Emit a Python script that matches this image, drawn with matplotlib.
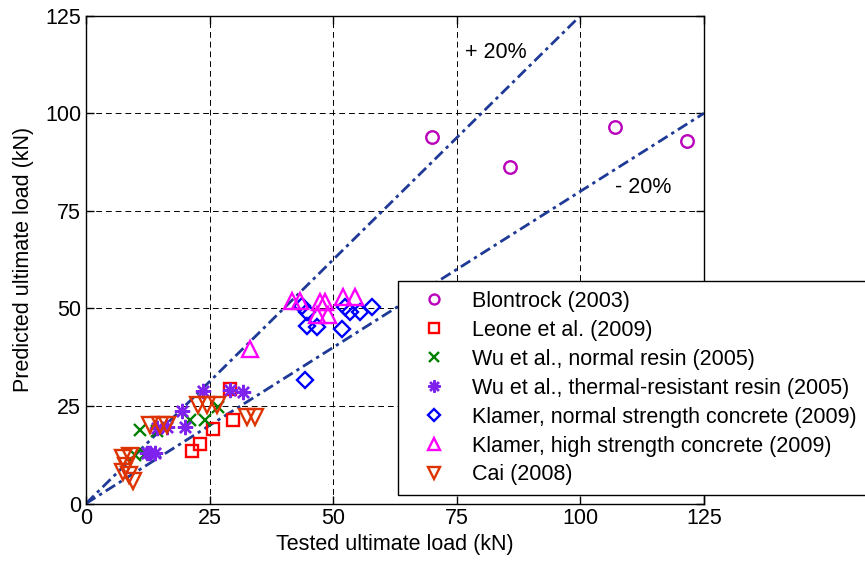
import numpy as np
import matplotlib
matplotlib.use("Agg")
import matplotlib.pyplot as plt

plt.rcParams['font.family'] = ['Liberation Sans', 'DejaVu Sans']
plt.rcParams['font.size'] = 15.5

# data (tested, predicted) in kN
blon_x = [69.9, 85.8, 106.9, 121.5]
blon_y = [94.0, 86.3, 96.6, 92.9]

leone_x = [29.1, 21.4, 23.1, 25.6, 29.8]
leone_y = [29.4, 13.5, 15.2, 19.0, 21.3]

wun_x = [10.9, 14.3, 21.0, 24.1, 26.8, 9.9, 12.0]
wun_y = [18.8, 18.6, 21.4, 21.4, 24.8, 12.4, 12.6]

wut_x = [23.7, 29.1, 31.8, 19.4, 20.0, 14.3, 16.3, 12.3, 14.0, 13.0]
wut_y = [28.8, 29.1, 28.7, 23.8, 19.7, 19.3, 19.5, 12.9, 12.9, 13.0]

kln_x = [43.6, 44.6, 44.6, 46.7, 51.8, 52.4, 53.4, 55.4, 57.8, 44.3]
kln_y = [50.6, 49.2, 45.5, 45.3, 44.6, 50.4, 49.2, 49.2, 50.4, 31.6]

klh_x = [41.6, 43.3, 47.3, 48.3, 46.7, 49.0, 52.0, 54.4, 33.2]
klh_y = [52.0, 51.9, 51.7, 51.7, 48.3, 48.3, 53.0, 52.8, 39.5]

cai_x = [12.9, 15.0, 16.3, 22.7, 24.4, 26.4, 32.5, 34.2, 7.5, 8.9, 7.5, 8.6, 9.5, 8.1]
cai_y = [20.1, 20.1, 20.1, 25.2, 25.2, 25.2, 22.2, 22.2, 11.6, 12.2, 8.1, 7.3, 5.8, 9.6]

fig = plt.figure(figsize=(8.65, 5.67), dpi=100)
ax = fig.add_axes([86/865, 1-503.5/567, (704-86)/865, (503.5-15.7)/567])

# +/- 20% lines
lc = '#1f3a96'
dd = (0, (4, 1.6, 1.2, 1.6))
ax.plot([0, 100], [0, 125], color=lc, lw=2, linestyle=dd, zorder=2)
ax.plot([0, 125], [0, 100], color=lc, lw=2, linestyle=dd, zorder=2)

ms = 9
mw = 1.7
ax.plot(blon_x, blon_y, 'o', mfc='none', mec='#bb00bb', mew=mw, ms=ms, label='Blontrock (2003)', zorder=3)
ax.plot(leone_x, leone_y, 's', mfc='none', mec='#ff0000', mew=mw, ms=ms, label='Leone et al. (2009)', zorder=3)
ax.plot(wun_x, wun_y, 'x', color='#008000', mew=mw, ms=ms, label='Wu et al., normal resin (2005)', zorder=3)
ax.plot(wut_x, wut_y, marker=(8, 2, 0), ls='none', color='#7f22ee', mew=mw, ms=11,
        label='Wu et al., thermal-resistant resin (2005)', zorder=3)
ax.plot(kln_x, kln_y, 'D', mfc='none', mec='#0000ff', mew=mw, ms=8,
        label='Klamer, normal strength concrete (2009)', zorder=3)
ax.plot(klh_x, klh_y, '^', mfc='none', mec='#ff00ff', mew=mw, ms=11.5,
        label='Klamer, high strength concrete (2009)', zorder=3)
ax.plot(cai_x, cai_y, 'v', mfc='none', mec='#dd3300', mew=mw, ms=11.5, label='Cai (2008)', zorder=3)

ax.text(76.7, 115.5, '+ 20%', ha='left', va='center')
ax.text(107.0, 81.1, '- 20%', ha='left', va='center')

ax.set_xlim(0, 125)
ax.set_ylim(0, 125)
ax.set_xticks([0, 25, 50, 75, 100, 125])
ax.set_yticks([0, 25, 50, 75, 100, 125])
ax.tick_params(direction='in', length=6, top=True, right=True, width=1)
ax.grid(True, color='k', lw=0.7, linestyle=(0, (6, 4)))
ax.set_axisbelow(True)
for s in ax.spines.values():
    s.set_linewidth(1)
ax.set_xlabel('Tested ultimate load (kN)', labelpad=3)
ax.set_ylabel('Predicted ultimate load (kN)', labelpad=8)

leg = ax.legend(loc='upper left', bbox_to_anchor=(398/865, 1-281/567), bbox_transform=fig.transFigure,
                borderaxespad=0, fancybox=False, edgecolor='k', framealpha=1,
                handlelength=2.4, handletextpad=0.6, borderpad=0.45, labelspacing=0.37, markerscale=0.8)
leg.get_frame().set_linewidth(1)
leg.set_zorder(5)

fig.savefig('out.png', dpi=100)
